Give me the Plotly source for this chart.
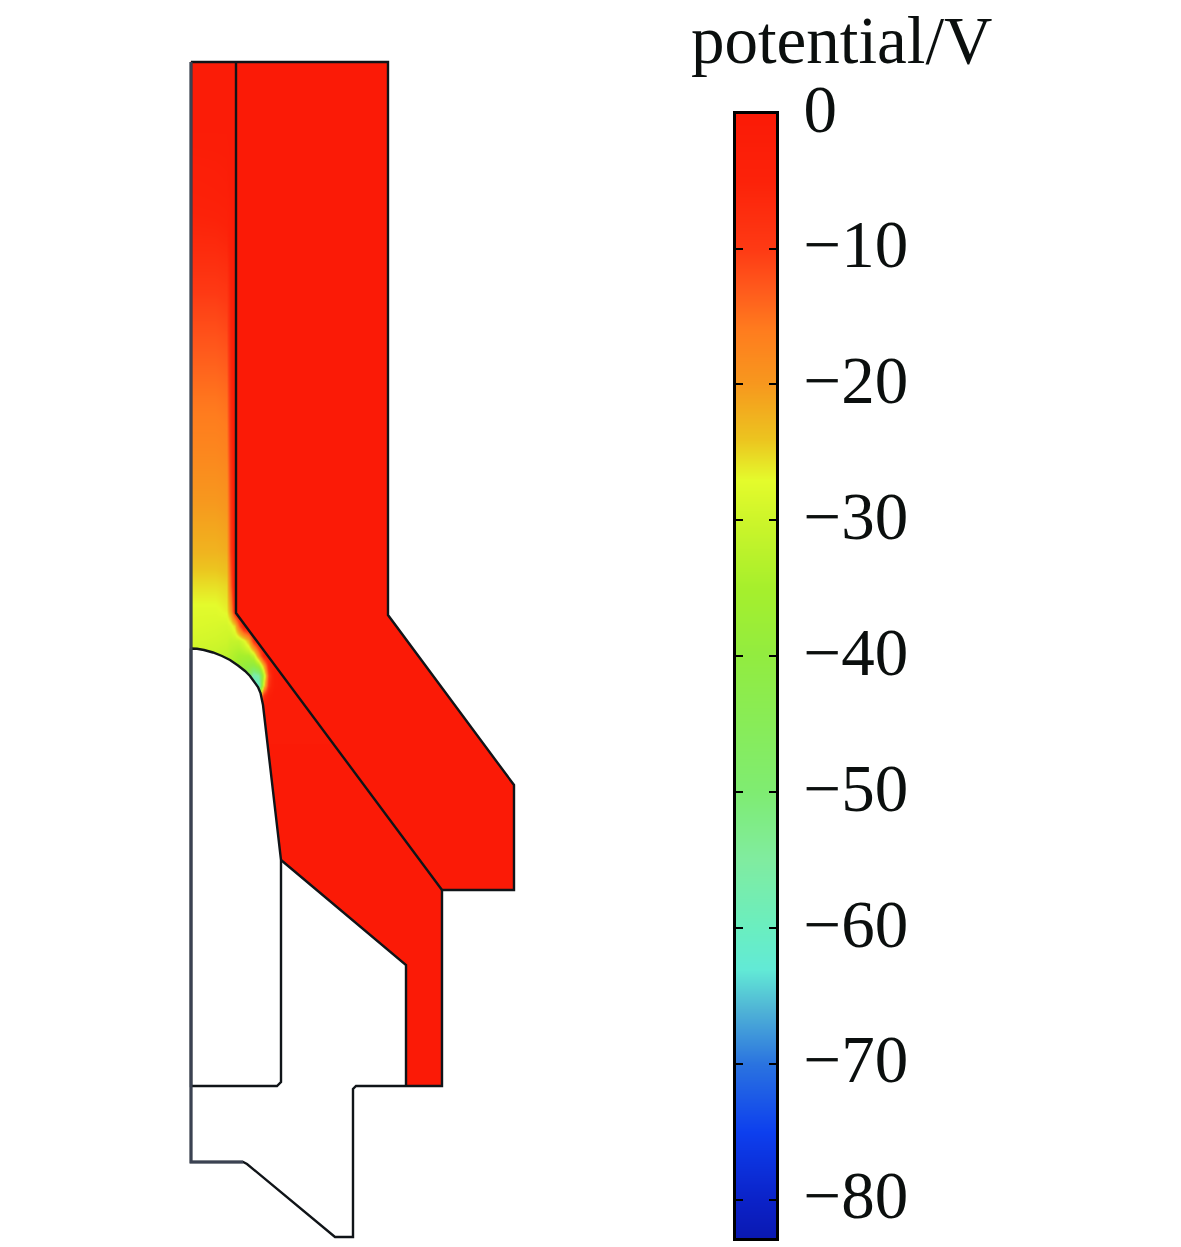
import plotly.graph_objects as go

# Colour scale stops: potential (V) and colour
scale_volts = [0, -5, -10, -13, -16, -20, -24, -27, -30, -35, -40, -45, -50, -55, -60, -63, -66, -70, -75, -80, -83]
scale_colors = ["#fb1a06", "#fc2209", "#fe3a14", "#ff5a1c", "#ff7c1e", "#f7981e", "#ecc41f", "#e4fb2c", "#cdf52a",
                "#a6ef2c", "#92ec40", "#88ec58", "#7fec72", "#80eca0", "#6aeec0", "#62ead6", "#4fb3d6", "#2a73e0",
                "#0d3fee", "#0b22c8", "#0a18b0"]
tick_volts = [-10, -20, -30, -40, -50, -60, -70, -80, -0.1]
tick_labels = ["−10", "−20", "−30", "−40", "−50", "−60", "−70", "−80", "0"]
V_MIN, V_MAX = -83, 0
ELECTRODE_RED = "#fb1a06"

# Potential field in the channel (columns = field_x, rows = field_y)
field_x = [191, 192, 215, 226, 230, 234, 238, 243, 248, 253, 258, 263, 268, 274, 282, 335, 336]
field_y = [62, 63, 130, 190, 250, 300, 350, 400, 450, 500, 550, 585, 610, 625, 640, 655, 665, 675, 685, 695, 705, 745, 746]
field_v = [
    [-1, -1, -1, -1, -1, -1, -1, -1, -1, -1, -1, -1, -1, -1, -1, -1, -1],
    [-1, -1, -1, -1, -1, -1, -1, -1, -1, -1, -1, -1, -1, -1, -1, -1, -1],
    [-1.5, -1.5, -1.5, -1.5, -1, -1, -1, -1, -1, -1, -1, -1, -1, -1, -1, -1, -1],
    [-4, -4, -3.5, -3, -2, -1, -1, -1, -1, -1, -1, -1, -1, -1, -1, -1, -1],
    [-7, -7, -7, -6.5, -4, -1.5, -1, -1, -1, -1, -1, -1, -1, -1, -1, -1, -1],
    [-10.5, -10.5, -10.5, -10, -5, -1.5, -1, -1, -1, -1, -1, -1, -1, -1, -1, -1, -1],
    [-13, -13, -13, -12.5, -6, -1.5, -1, -1, -1, -1, -1, -1, -1, -1, -1, -1, -1],
    [-15.5, -15.5, -15.5, -15, -7, -1.5, -1, -1, -1, -1, -1, -1, -1, -1, -1, -1, -1],
    [-17.5, -17.5, -17.5, -17, -8, -1.5, -1, -1, -1, -1, -1, -1, -1, -1, -1, -1, -1],
    [-20, -20, -20, -19.5, -9, -2, -1, -1, -1, -1, -1, -1, -1, -1, -1, -1, -1],
    [-22.5, -22.5, -22.5, -22, -10, -2, -1, -1, -1, -1, -1, -1, -1, -1, -1, -1, -1],
    [-25.5, -25.5, -25.5, -25, -14, -2, -1, -1, -1, -1, -1, -1, -1, -1, -1, -1, -1],
    [-27.5, -27.5, -27.5, -26.5, -20, -5, -1, -1, -1, -1, -1, -1, -1, -1, -1, -1, -1],
    [-28, -28, -28.5, -29, -28, -25, -14, -3, -1, -1, -1, -1, -1, -1, -1, -1, -1],
    [-29, -29, -29.5, -30, -31, -31, -31, -28, -22, -8, -2, -1, -1, -1, -1, -1, -1],
    [-30, -30, -31, -32, -33, -34, -35, -35, -35, -31, -18, -5, -2, -1, -1, -1, -1],
    [-31, -31, -32, -33, -33, -35, -37, -39, -40, -41, -36, -22, -6, -2, -1, -1, -1],
    [-32, -32, -33, -34, -35, -36, -37, -38, -46, -58, -55, -32, -10, -2, -1, -1, -1],
    [-33, -33, -34, -36, -38, -40, -42, -44, -46, -60, -62, -26, -8, -2, -1, -1, -1],
    [-33, -33, -34, -36, -38, -40, -42, -44, -46, -50, -30, -8, -3, -1, -1, -1, -1],
    [-30, -30, -30, -30, -30, -30, -20, -15, -10, -5, -4, -2, -1, -1, -1, -1, -1],
    [-1, -1, -1, -1, -1, -1, -1, -1, -1, -1, -1, -1, -1, -1, -1, -1, -1],
    [-1, -1, -1, -1, -1, -1, -1, -1, -1, -1, -1, -1, -1, -1, -1, -1, -1],
]

# Geometry of the cross-section
electrode_x = [236, 388, 388, 514, 514, 442, 236, 236]
electrode_y = [62, 62, 615, 785, 890, 890, 615, 62]
lower_x = [266, 333, 442, 442, 406, 406, 281]
lower_y = [744, 744, 890, 1086, 1086, 965, 860]
cathode_x = [191, 197, 204, 213, 222, 230, 238, 245, 250, 254, 258, 260.5, 262, 263, 281, 281, 277, 191, 191]
cathode_y = [648.5, 648.8, 650, 652.5, 656, 660, 665.5, 671, 676, 681, 687, 693, 699, 705, 860, 1082, 1086, 1086, 648.5]
outer_x = [191, 388, 388, 514, 514, 442, 442, 356, 353, 353, 335, 247, 243, 191, 191]
outer_y = [62, 62, 615, 785, 890, 890, 1086, 1086, 1089, 1237, 1237, 1164, 1162, 1162, 62]
divider_x = [236, 236, 442]
divider_y = [62, 613, 890]
holder_x = [406, 406, 281]
holder_y = [1086, 965, 860]
wall_x = [191, 191, 243]
wall_y = [62, 1162, 1162]
bar_column = [-1, 2]
bar_range = [-82.8, -0.1]

W, H = 1181, 1247
SERIF = "Liberation Serif"
LINE = "#101418"
TEXT = "#0b0f0e"
colorscale = [[(v - V_MIN) / (V_MAX - V_MIN), c] for v, c in sorted(zip(scale_volts, scale_colors))]

fig = go.Figure()
fig.add_trace(go.Heatmap(x=field_x, y=field_y, z=field_v, coloraxis="coloraxis", zsmooth="best", hoverinfo="skip"))
fig.add_trace(go.Scatter(x=lower_x, y=lower_y, mode="lines", fill="toself", fillcolor=ELECTRODE_RED,
                         line=dict(width=0), hoverinfo="skip"))
fig.add_trace(go.Scatter(x=electrode_x, y=electrode_y, mode="lines", fill="toself", fillcolor=ELECTRODE_RED,
                         line=dict(width=0), hoverinfo="skip"))
fig.add_trace(go.Scatter(x=cathode_x, y=cathode_y, mode="lines", fill="toself", fillcolor="white",
                         line=dict(color=LINE, width=2.4), hoverinfo="skip"))
for xs, ys in [(outer_x, outer_y), (divider_x, divider_y), (holder_x, holder_y)]:
    fig.add_trace(go.Scatter(x=xs, y=ys, mode="lines", line=dict(color=LINE, width=2.4), hoverinfo="skip"))
fig.add_trace(go.Scatter(x=wall_x, y=wall_y, mode="lines", line=dict(color="#3b4252", width=3), hoverinfo="skip"))

# Colour bar with ticks on both sides
fig.add_trace(go.Heatmap(x=bar_column, y=scale_volts, z=[[v, v] for v in scale_volts], coloraxis="coloraxis",
                         zsmooth="best", xaxis="x2", yaxis="y2", hoverinfo="skip"))

fig.update_layout(
    width=W, height=H, autosize=False, showlegend=False,
    margin=dict(l=0, r=0, t=0, b=0, pad=0, autoexpand=False), paper_bgcolor="white", plot_bgcolor="white",
    font=dict(family=SERIF, color=TEXT),
    coloraxis=dict(colorscale=colorscale, cmin=V_MIN, cmax=V_MAX, showscale=False),
    xaxis=dict(domain=[0, 1], range=[0, W], visible=False),
    yaxis=dict(domain=[0, 1], range=[H, 0], visible=False),
    xaxis2=dict(domain=[736 / W, 776 / W], range=[0, 1], anchor="y2", showticklabels=False, ticks="",
                showgrid=False, zeroline=False, showline=True, mirror=True, linecolor="black", linewidth=3),
    yaxis2=dict(domain=[1 - 1238 / H, 1 - 114 / H], range=bar_range, anchor="x2", side="right",
                tickvals=tick_volts, ticktext=tick_labels, tickfont=dict(size=67, family=SERIF, color=TEXT),
                ticks="inside", ticklen=7, tickwidth=2, tickcolor="black", ticklabelstandoff=11, ticklabelshift=-5,
                showgrid=False, zeroline=False, showline=True, mirror="ticks", linecolor="black", linewidth=3),
    annotations=[dict(text="potential/V", x=841, y=40, xref="x", yref="y", showarrow=False,
                      font=dict(size=67, family=SERIF, color=TEXT), xanchor="center", yanchor="middle")],
)
fig.write_html("out.html", config=dict(displayModeBar=False),
               post_script="document.body.style.margin='0';document.documentElement.style.overflow='hidden';")
